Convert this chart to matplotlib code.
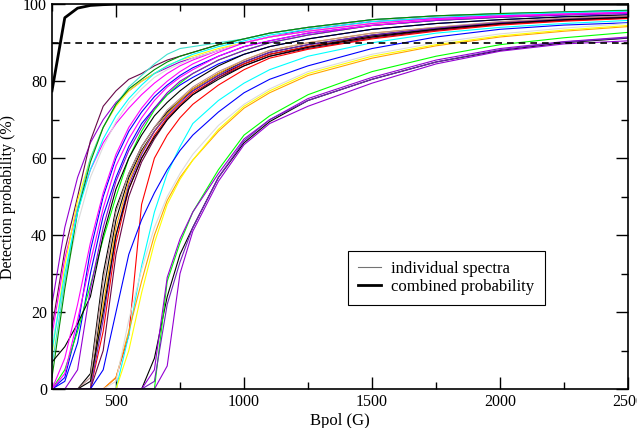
import numpy as np
import matplotlib
matplotlib.use("Agg")
import matplotlib.pyplot as plt
from matplotlib.ticker import MultipleLocator

# detection probability (%) vs Bpol (G), one curve per spectrum

bpol = [250, 300, 350, 400, 450, 500, 550, 600, 650, 700, 750, 800, 900, 1000, 1100, 1250, 1500, 1750, 2000, 2250, 2500]

# earliest spectra (already detectable at 250 G)
early = [
    [22, 42, 55, 64, 70, 74.5, 77.5, 80, 82, 83.5, 85, 86, 88, 90, 91.5, 93.5, 95.5, 96.5, 97.2, 97.8, 98.2],
    [16, 36, 50, 64.5, 73.5, 77.5, 80.5, 82, 84, 85.5, 86.5, 87.5, 89.5, 91, 92.5, 94, 96, 97, 97.5, 98, 98.3],
    [14, 34, 47, 57, 64, 69, 73, 76.5, 79.5, 82, 84, 85.5, 88, 90, 91.5, 93, 95, 96.2, 97, 97.5, 97.8],
    [9, 32, 49, 60, 68, 73.5, 77.5, 80, 82, 84, 85.5, 86.5, 88.5, 90, 91.5, 93, 95, 96, 97, 97.5, 98],
    [12, 28, 43, 55, 63, 69.5, 74.5, 78, 81, 83, 84.5, 86, 88, 90, 91.5, 93, 95, 96, 97, 97.5, 98],
    [6, 28, 47, 60, 68, 74, 78.5, 81.5, 84.5, 87, 88.5, 89, 90, 91, 92.5, 94, 96, 97, 97.6, 98, 98.5],
    [3, 26, 46, 59, 68, 74, 78, 80.5, 83, 85, 86.5, 87.5, 89.5, 91, 92.5, 94, 96, 97, 97.6, 98, 98.4],
    [10, 30, 46, 57, 65, 71, 75.5, 79, 82, 84, 85.5, 87, 89, 90.5, 92, 93.5, 95.5, 96.5, 97.3, 97.8, 98.2],
]
early_colors = ["#9400d3", "#670748", "#ff00ff", "#ffff00", "#dcdcdc", "#40e0d0", "#008b00", "#00ffff"]

second = [
    [0, 3, 16, 36, 50, 60, 67, 72, 76, 79, 81.5, 83.5, 86.5, 89, 90.5, 92.5, 94.5, 95.8, 96.7, 97.3, 97.8],
    [0, 2, 12, 30, 45, 55, 63, 69, 73, 76.5, 79, 81, 84.5, 87, 89, 91, 93.5, 95, 96, 96.8, 97.3],
    [0, 5, 15, 27, 39, 50, 60, 67, 72.5, 76.5, 79.5, 82, 85.5, 88, 90, 92, 94.5, 95.8, 96.6, 97.2, 97.7],
    [7, 11, 17, 24, 40, 52, 60, 66, 71, 74.5, 77.5, 80, 84, 87, 89, 91, 93.5, 95, 96, 96.7, 97.2],
    [0, 0, 5, 26, 42, 54, 62, 68, 73, 77, 80, 82, 85.5, 88, 90, 92, 94.5, 95.8, 96.6, 97.2, 97.6],
    [0, 8, 22, 38, 51, 61, 68, 73, 77, 80, 82.5, 84.5, 87.5, 90, 91.5, 93, 95, 96.3, 97, 97.5, 97.9],
    [0, 4, 18, 33, 47, 58, 65, 70.5, 75, 78.5, 81, 83, 86.5, 89, 90.5, 92.5, 94.5, 96, 96.8, 97.4, 97.8],
]
second_colors = ["#0000ff", "#0000ff", "#00ff00", "#000000", "#9400d3", "#ff00ff", "#ff00ff"]

middle = [
    [0, 0, 0, 4, 30, 47, 56, 63, 68, 72, 75, 78, 82, 85, 87.5, 89.5, 92, 93.8, 95.2, 96.2, 96.8],
    [0, 0, 0, 0, 25, 44, 55, 62, 67, 71.5, 75, 77.5, 81.5, 84.5, 87, 89, 91.8, 93.5, 95, 96, 96.6],
    [0, 0, 0, 0, 15, 38, 52, 60, 66, 70.5, 74, 77, 81, 84.5, 87, 89, 91.5, 93.3, 94.8, 95.8, 96.5],
    [0, 0, 0, 0, 22, 42, 54, 61.5, 67, 71.5, 75, 78, 82, 85.5, 88, 90, 92.5, 94, 95.3, 96.2, 96.8],
    [0, 0, 0, 3, 28, 46, 56, 63, 68, 72.5, 75.5, 78.5, 82.5, 85.5, 88, 90, 92.5, 94, 95.5, 96.4, 97],
    [0, 0, 0, 0, 18, 40, 53, 61, 67, 71, 74.5, 77.5, 81.5, 85, 87.5, 89.5, 92, 93.8, 95.2, 96.1, 96.7],
    [0, 0, 0, 0, 10, 35, 50, 59, 65, 70, 73.5, 76.5, 81, 84, 86.5, 88.5, 91.2, 93.2, 94.8, 95.8, 96.4],
    [0, 0, 0, 0, 0, 3, 14, 48, 60, 66, 70.5, 74, 79, 83, 86, 88.3, 91, 93, 94.6, 95.6, 96.3],
    [0, 0, 0, 2, 20, 40, 52, 60, 65.5, 70, 73.5, 76.5, 80.5, 84, 86.5, 88.8, 91.5, 93.5, 95, 96, 96.6],
    [0, 0, 0, 0, 0, 0, 14, 32, 46, 56, 63, 69, 75, 79.5, 83, 86.5, 90, 92.5, 94, 95, 95.8],
    [0, 0, 0, 0, 5, 20, 35, 44, 51, 57, 62, 66, 72, 77, 80.5, 84, 88.5, 91.5, 93.5, 94.6, 95.2],
]
middle_colors = ["#000000", "#000000", "#ff0000", "#ffa500", "#bc8f8f", "#7221bc", "#670748", "#ff0000", "#000000", "#00ffff", "#0000ff"]

late = [
    [0, 0, 0, 0, 0, 3, 15, 28, 40, 49, 55, 59.5, 67, 73, 77, 81.5, 86, 89.2, 91.5, 93, 94.2],
    [0, 0, 0, 0, 0, 0, 10, 25, 38, 48, 54.5, 59.5, 67.5, 73.5, 77.5, 82, 86.5, 89.5, 91.8, 93.3, 94.5],
    [0, 0, 0, 0, 0, 2, 18, 31, 42, 50, 56, 61, 68.5, 74, 78, 82.5, 87, 90, 92.3, 93.8, 95],
    [0, 0, 0, 0, 0, 0, 0, 0, 8, 24, 35, 42, 55, 64, 69.5, 75, 80.5, 85, 88, 90, 91.2],
    [0, 0, 0, 0, 0, 0, 0, 0, 0, 28, 38, 46, 57, 66, 71, 76.5, 82.5, 86.5, 89.5, 91.3, 92.7],
    [0, 0, 0, 0, 0, 0, 0, 0, 0, 6, 30, 41, 54, 63.5, 69, 73.5, 79.5, 84.5, 87.8, 89.7, 90.5],
    [0, 0, 0, 0, 0, 0, 0, 0, 5, 29, 39, 46, 56, 65, 70, 75.5, 81, 85.5, 88.5, 90.3, 91.5],
    [0, 0, 0, 0, 0, 0, 0, 0, 2, 22, 33, 42, 55, 64.5, 70, 75, 80.5, 85, 88.2, 90.2, 91.3],
]
late_colors = ["#ffa500", "#ffff00", "#dcdcdc", "#000000", "#00ff00", "#9400d3", "#9400d3", "#7221bc"]

combined = [77.5, 96.5, 99, 99.7, 99.9, 100, 100, 100, 100, 100, 100, 100, 100, 100, 100, 100, 100, 100, 100, 100, 100]
threshold = 90

plt.rcParams["font.family"] = ["Liberation Serif", "DejaVu Serif"]
plt.rcParams["font.size"] = 12

fig = plt.figure(figsize=(6.37, 4.28), dpi=100)
ax = fig.add_axes([0.0816, 0.091, 0.9044, 0.899])

curves = early + second + middle + late
colors = early_colors + second_colors + middle_colors + late_colors
for i in range(len(curves)):
    ax.plot(bpol, curves[i], color=colors[i], lw=0.8)

ax.axhline(threshold, color="black", lw=1.2, dashes=(4, 3))
ax.plot(bpol, combined, color="black", lw=2.0)

# legend handles only
ax.plot([], [], color="0.45", lw=0.8, label="individual spectra")
ax.plot([], [], color="black", lw=2.0, label="combined probability")
leg = ax.legend(loc="lower left", bbox_to_anchor=(0.514, 0.219), fancybox=False, framealpha=1,
                edgecolor="black", handlelength=1.4, handletextpad=0.6, labelspacing=0.1,
                borderpad=0.6, borderaxespad=0, fontsize=12)
leg.get_frame().set_linewidth(0.8)

ax.set_xlim(250, 2500)
ax.set_ylim(0, 100)
ax.xaxis.set_major_locator(MultipleLocator(500))
ax.xaxis.set_minor_locator(MultipleLocator(250))
ax.yaxis.set_major_locator(MultipleLocator(20))
ax.yaxis.set_minor_locator(MultipleLocator(10))
ax.tick_params(which="both", direction="in", top=True, right=True, width=1, labelsize=11.5)
ax.tick_params(which="major", length=9)
ax.tick_params(which="minor", length=5)
for s in ax.spines.values():
    s.set_linewidth(1.2)

ax.set_xlabel("Bpol (G)", labelpad=2, fontsize=12)
ax.set_ylabel("Detection probability (%)", labelpad=5, fontsize=11.5)

fig.savefig("out.png", dpi=100)
